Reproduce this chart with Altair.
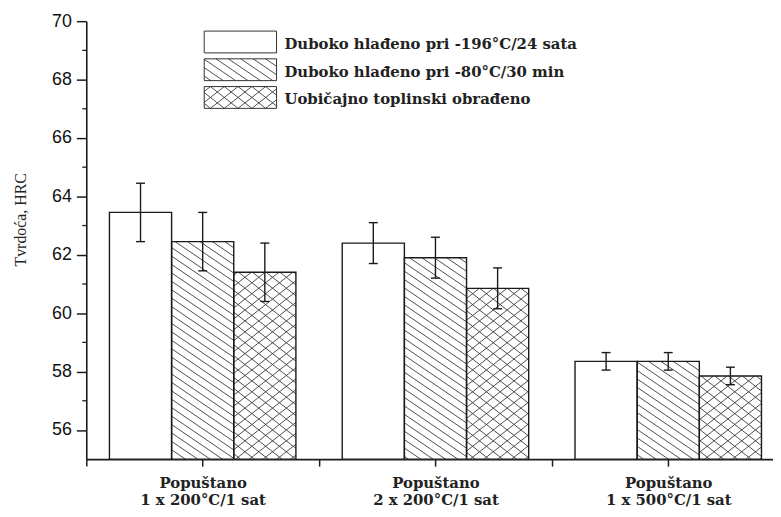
import math
import altair as alt
import pandas as pd

# ---------------- data ----------------
group_line1 = ["Popuštano", "Popuštano", "Popuštano"]
group_line2 = ["1 x 200°C/1 sat", "2 x 200°C/1 sat", "1 x 500°C/1 sat"]
group_pos = [1, 2, 3]
series_names = [
    "Duboko hlađeno pri -196°C/24 sata",
    "Duboko hlađeno pri -80°C/30 min",
    "Uobičajno toplinski obrađeno",
]
hrc_196 = [63.45, 62.4, 58.35]
hrc_80 = [62.45, 61.9, 58.35]
hrc_std = [61.4, 60.85, 57.85]
err_196 = [1.0, 0.7, 0.3]
err_80 = [1.0, 0.7, 0.3]
err_std = [1.0, 0.7, 0.3]
y_ticks = [56, 58, 60, 62, 64, 66, 68, 70]
y_minor = [57, 59, 61, 63, 65, 67, 69]
x_ticks = [0.5, 1, 1.5, 2, 2.5, 3]

# ---------------- layout / style ----------------
W, H = 693, 442
XMIN, XMAX = 0.5, 3.45
YMIN, YMAX = 55, 70
PX = W / (XMAX - XMIN)
PY = H / (YMAX - YMIN)
BAR_W = 0.267
CAP_PX = 4.5
patterns = ["none", "diag", "cross"]
DIAG_SLOPE, DIAG_STEP = 0.68, 8.5
CROSS_SLOPE, CROSS_STEP = 0.79, 11.0
LEG_U = (119, 192)
LEG_V = [21, 49, 77]
LEG_HALF = 11
LEG_TEXT_U = 200
LEG_TEXT_DV = 7
INK = "#1a1a1a"
HATCH = "#3a3a3a"


def to_data(u, v):
    return XMIN + u / PX, YMAX - v / PY


def hatch_segments(u0, u1, v0, v1, slope, step, direction):
    a = direction * slope
    corners = [v - a * u for u in (u0, u1) for v in (v0, v1)]
    cmin, cmax = min(corners), max(corners)
    segs = []
    for k in range(math.ceil(cmin / step), math.floor(cmax / step) + 1):
        c = k * step
        ua = (v0 - c) / a
        ub = (v1 - c) / a
        lo = max(u0, min(ua, ub))
        hi = min(u1, max(ua, ub))
        if hi - lo > 0.5:
            segs.append((lo, a * lo + c, hi, a * hi + c))
    return segs


def pattern_rows(pat, u0, u1, v0, v1):
    rows = []
    fams = []
    if pat == "diag":
        fams = [(DIAG_SLOPE, DIAG_STEP, 1)]
    elif pat == "cross":
        fams = [(CROSS_SLOPE, CROSS_STEP, 1), (CROSS_SLOPE, CROSS_STEP, -1)]
    for slope, step, d in fams:
        for (ua, va, ub, vb) in hatch_segments(u0, u1, v0, v1, slope, step, d):
            xa, ya = to_data(ua, va)
            xb, yb = to_data(ub, vb)
            rows.append({"x": xa, "y": ya, "x2": xb, "y2": yb})
    return rows


values = [hrc_196, hrc_80, hrc_std]
errors = [err_196, err_80, err_std]

bars, hatch, errs = [], [], []
for s in range(3):
    for g in range(3):
        x0 = group_pos[g] + (s - 1.5) * BAR_W
        x1 = x0 + BAR_W
        top = values[s][g]
        bars.append({"x": x0, "x2": x1, "y": YMIN, "y2": top,
                     "series": series_names[s]})
        u0, u1 = (x0 - XMIN) * PX, (x1 - XMIN) * PX
        v0, v1 = (YMAX - top) * PY, (YMAX - YMIN) * PY
        hatch += pattern_rows(patterns[s], u0, u1, v0, v1)
        xc = (x0 + x1) / 2
        e = errors[s][g]
        cap = CAP_PX / PX
        errs.append({"x": xc, "x2": xc, "y": top - e, "y2": top + e})
        errs.append({"x": xc - cap, "x2": xc + cap, "y": top - e, "y2": top - e})
        errs.append({"x": xc - cap, "x2": xc + cap, "y": top + e, "y2": top + e})

leg_boxes, leg_text = [], []
for s in range(3):
    va, vb = LEG_V[s] - LEG_HALF, LEG_V[s] + LEG_HALF
    xa, ya = to_data(LEG_U[0], va)
    xb, yb = to_data(LEG_U[1], vb)
    leg_boxes.append({"x": xa, "x2": xb, "y": yb, "y2": ya})
    hatch += pattern_rows(patterns[s], LEG_U[0], LEG_U[1], va, vb)
    tx, ty = to_data(LEG_TEXT_U, LEG_V[s] + LEG_TEXT_DV)
    leg_text.append({"x": tx, "y": ty, "label": series_names[s]})

bars_df = pd.DataFrame(bars)
hatch_df = pd.DataFrame(hatch)
errs_df = pd.DataFrame(errs)
legbox_df = pd.DataFrame(leg_boxes)
legtext_df = pd.DataFrame(leg_text)
minor_df = pd.DataFrame({"y": y_minor})

# ---------------- scales / axes ----------------
label_expr = " : ".join(
    f"datum.value == {p} ? ['{a}', '{b}']" for p, a, b in zip(group_pos, group_line1, group_line2)
) + " : ''"

xscale = alt.Scale(domain=[XMIN, XMAX], nice=False, zero=False)
yscale = alt.Scale(domain=[YMIN, YMAX], nice=False, zero=False)
xaxis = alt.Axis(
    values=x_ticks, labelExpr=label_expr, title=None, grid=False,
    tickSize=7, tickWidth=1.5, tickColor=INK, domainColor=INK, domainWidth=1.6,
    labelFont="DejaVu Serif", labelFontWeight="bold", labelFontSize=15,
    labelColor="#222", labelLineHeight=17, labelPadding=10, labelOverlap=False,
    labelFlush=False,
)
yaxis = alt.Axis(
    values=y_ticks, title="Tvrdoća, HRC", grid=False,
    tickSize=10, tickWidth=1.5, tickColor=INK, domainColor=INK, domainWidth=1.6,
    labelFont="Liberation Sans", labelFontSize=18, labelColor="#111", labelPadding=5,
    titleFont="Liberation Serif", titleFontSize=16, titleFontWeight="normal",
    titleColor="#222", titleAngle=270, titleX=-61, titleY=200, titleAlign="center",
    titleBaseline="alphabetic",
)


def X(f="x"):
    return alt.X(f, type="quantitative", scale=xscale, axis=xaxis)


def Y(f="y"):
    return alt.Y(f, type="quantitative", scale=yscale, axis=yaxis)


fill_layer = alt.Chart(bars_df).mark_rect(fill="white", strokeWidth=0).encode(
    x=X(), x2="x2", y=Y(), y2="y2")
hatch_layer = alt.Chart(hatch_df).mark_rule(color=HATCH, strokeWidth=0.9).encode(
    x=X(), x2="x2", y=Y(), y2="y2")
outline_layer = alt.Chart(bars_df).mark_rect(
    fillOpacity=0, stroke=INK, strokeWidth=1.4).encode(
    x=X(), x2="x2", y=Y(), y2="y2")
err_layer = alt.Chart(errs_df).mark_rule(color=INK, strokeWidth=1.4).encode(
    x=X(), x2="x2", y=Y(), y2="y2")
minor_layer = alt.Chart(minor_df).mark_rule(color=INK, strokeWidth=1.3).encode(
    y=Y(), x=alt.value(-4), x2=alt.value(0))
legbox_layer = alt.Chart(legbox_df).mark_rect(
    fillOpacity=0, stroke="#333", strokeWidth=1).encode(
    x=X(), x2="x2", y=Y(), y2="y2")
legtext_layer = alt.Chart(legtext_df).mark_text(
    align="left", baseline="alphabetic", font="DejaVu Serif", fontWeight="bold",
    fontSize=15, color="#222").encode(x=X(), y=Y(), text="label:N")

chart = alt.layer(
    fill_layer, hatch_layer, outline_layer, err_layer, minor_layer,
    legbox_layer, legtext_layer,
).properties(
    width=W, height=H,
    autosize=alt.AutoSizeParams(type="none"),
    padding={"left": 79, "top": 11, "right": 0, "bottom": 48},
    background="white",
).configure_view(stroke=None)

chart.save("out.html", embed_options={"renderer": "svg", "actions": False})
